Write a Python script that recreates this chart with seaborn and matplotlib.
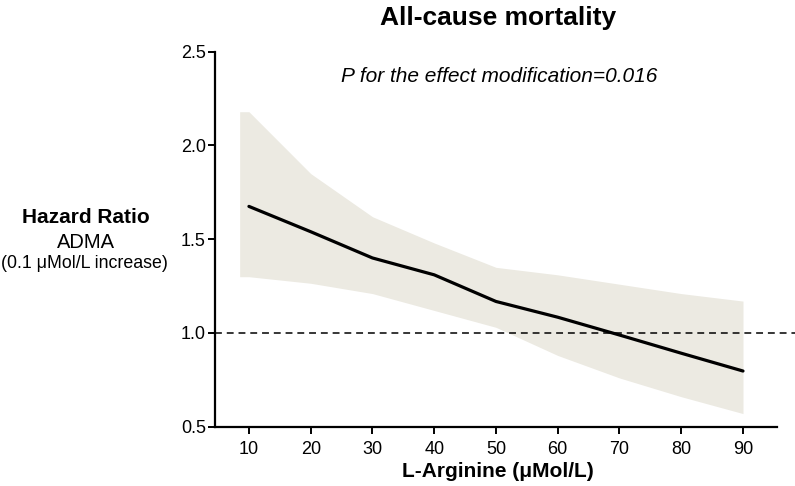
import matplotlib
matplotlib.use("Agg")
import matplotlib.pyplot as plt
import seaborn as sns
import pandas as pd

# Values
arginine = [10, 20, 30, 40, 50, 60, 70, 80, 90]
hazard_ratio = [1.675, 1.54, 1.40, 1.31, 1.168, 1.084, 0.989, 0.892, 0.797]

# confidence band (starts slightly left of the first point)
band_x = [8.5, 10, 20, 30, 40, 50, 60, 70, 80, 90]
band_upper = [2.18, 2.18, 1.85, 1.62, 1.48, 1.35, 1.31, 1.26, 1.21, 1.17]
band_lower = [1.30, 1.30, 1.265, 1.21, 1.12, 1.03, 0.88, 0.76, 0.66, 0.57]

y_ticks = [0.5, 1.0, 1.5, 2.0, 2.5]
reference_hr = 1.0

sns.set_style("ticks")
plt.rcParams["font.family"] = ["Liberation Sans", "DejaVu Sans"]
plt.rcParams["text.color"] = "black"
plt.rcParams["axes.labelcolor"] = "black"

df = pd.DataFrame({"arginine": arginine, "hr": hazard_ratio})

fig = plt.figure(figsize=(7.95, 4.86), dpi=100)
ax = fig.add_axes([0.2704, 0.122, 0.7069, 0.7716])

ax.fill_between(band_x, band_lower, band_upper, color="#ECEAE2", linewidth=0)
sns.lineplot(data=df, x="arginine", y="hr", color="black", linewidth=2.3, ax=ax)
ax.axhline(reference_hr, xmin=0, xmax=1.033, color="black", linewidth=1.1,
           linestyle=(0, (4.5, 3.2)), clip_on=False)

ax.set_xlim(4.5, 95.5)
ax.set_ylim(0.5, 2.5)
ax.set_xticks(arginine)
ax.set_yticks(y_ticks)
ax.set_yticklabels([f"{v:.1f}" for v in y_ticks])

ax.set_xlabel("")
ax.set_ylabel("")
ax.tick_params(axis="both", labelsize=13, width=1.4, length=5, color="black", labelcolor="black")
ax.tick_params(axis="y", pad=1.5)
ax.tick_params(axis="x", pad=5)

for side in ["top", "right"]:
    ax.spines[side].set_visible(False)
for side in ["left", "bottom"]:
    ax.spines[side].set_linewidth(1.6)
    ax.spines[side].set_color("black")

fig.text(0.627, 1 - 24.5 / 486, "All-cause mortality", ha="center", va="baseline",
         fontsize=19, fontweight="bold")
fig.text(0.628, 1 - 81.5 / 486, "P for the effect modification=0.016", ha="center",
         va="baseline", fontsize=15, style="italic")
fig.text(0.626, 1 - 476.5 / 486, "L-Arginine (\u03bcMol/L)", ha="center", va="baseline",
         fontsize=15, fontweight="bold")

fig.text(0.108, 1 - 223 / 486, "Hazard Ratio", ha="center", va="baseline", fontsize=15, fontweight="bold")
fig.text(0.108, 1 - 248 / 486, "ADMA", ha="center", va="baseline", fontsize=14.5)
fig.text(0.106, 1 - 267.5 / 486, "(0.1 \u03bcMol/L increase)", ha="center", va="baseline", fontsize=12.8)

fig.savefig("out.png", dpi=100)
